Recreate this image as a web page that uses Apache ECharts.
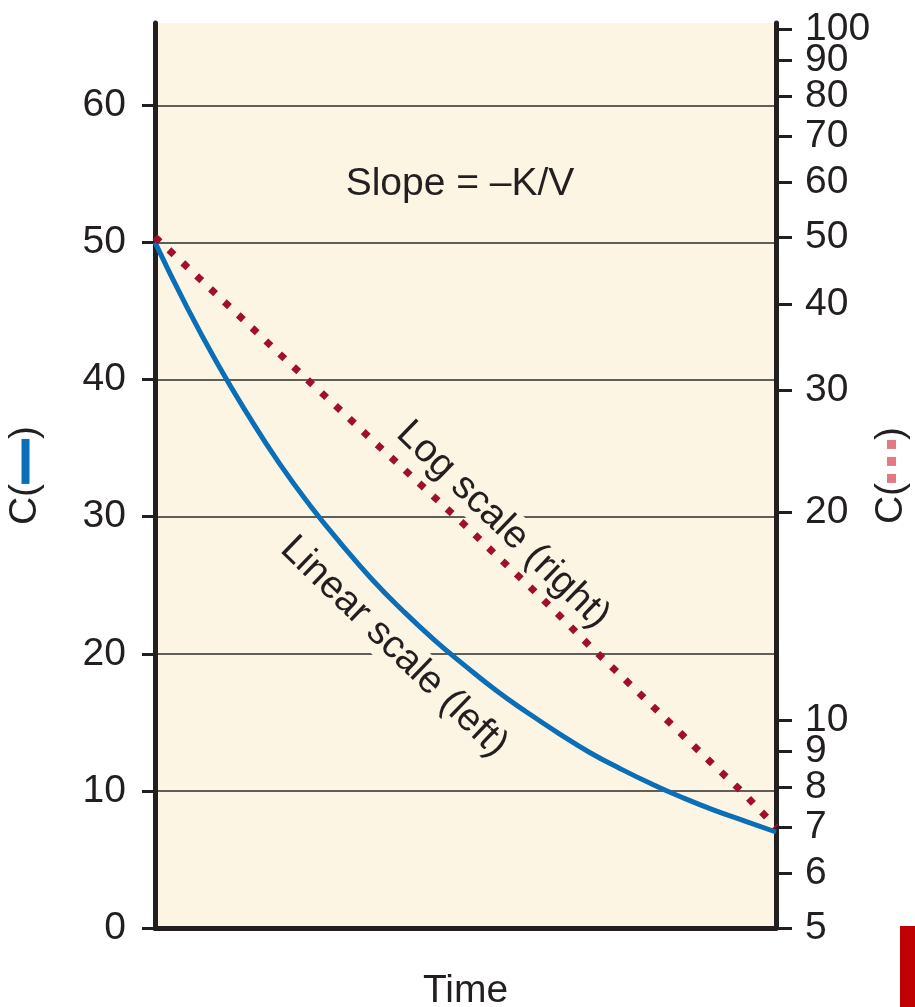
<!DOCTYPE html>
<html>
<head>
<meta charset="utf-8">
<script src="https://cdn.jsdelivr.net/npm/echarts@6/dist/echarts.min.js"></script>
<style>
  html, body { margin: 0; padding: 0; background: #ffffff; }
  #chart { width: 915px; height: 1007px; }
</style>
</head>
<body>
<div id="chart"></div>
<script>
// Elapsed time (arbitrary units) and plasma concentration C at each time point
const times = [0, 0.5, 1, 1.5, 2, 2.5, 3, 3.5, 4, 4.5, 5, 5.5, 6, 6.5, 7, 7.5, 8, 8.5, 9, 9.5, 10];
const concentration = [50, 45.4, 41.2, 37.4, 33.9, 30.8, 28.0, 25.4, 23.1, 21.0, 19.1, 17.3, 15.7, 14.2, 12.8, 11.6, 10.5, 9.5, 8.6, 7.8, 7.0];

// Tick values on the two concentration axes
const linearTicks = [0, 10, 20, 30, 40, 50, 60];
const logTicks = [5, 6, 7, 8, 9, 10, 20, 30, 40, 50, 60, 70, 80, 90, 100];
// The closely packed top labels of the log scale are split over two twin axes
// so neither axis drops a label next to its end.
const logLabelsMain = [5, 6, 7, 8, 9, 10, 20, 30, 40, 50, 60, 80, 100];
const logLabelsTwin = [70, 90];

const INK = '#231F20';
const FONT = 'Liberation Sans';
const FS = 39;
const BLUE = '#0B6FB8';
const CRIMSON = '#A0102C';
const PAPER = '#FDF5E4';
const LOG_MIN = 5;
const LOG_MAX = 102;

const points = times.map((t, i) => [t, concentration[i]]);

const chart = echarts.init(document.getElementById('chart'), null, { renderer: 'canvas' });

const axisLineStyle = { color: INK, width: 5 };
const textFont = FS + 'px "' + FONT + '"';
const gridBox = { left: 155, right: 139, top: 23, bottom: 79, containLabel: false, outerBoundsMode: 'none' };
const rightLabel = { color: INK, fontSize: FS, fontFamily: FONT, margin: 29 };

chart.setOption({
  animation: false,
  backgroundColor: '#ffffff',
  textStyle: { fontFamily: FONT },
  grid: [
    Object.assign({ show: true, backgroundColor: PAPER, borderWidth: 0 }, gridBox),
    Object.assign({ show: false }, gridBox)
  ],
  xAxis: [
    {
      gridIndex: 0, type: 'value', min: 0, max: 10,
      name: 'Time', nameLocation: 'middle', nameGap: 44, nameMoveOverlap: false,
      nameTextStyle: { color: INK, fontSize: FS, fontFamily: FONT },
      axisLine: { show: true, lineStyle: axisLineStyle },
      axisTick: { show: false },
      axisLabel: { show: false },
      splitLine: { show: false }
    },
    {
      gridIndex: 1, type: 'value', min: 0, max: 10, show: false
    }
  ],
  yAxis: [
    {
      gridIndex: 0, type: 'value', position: 'left', min: 0, max: 66,
      name: 'C({b|})', nameLocation: 'middle', nameGap: 110, nameRotate: 90, nameMoveOverlap: false,
      nameTextStyle: {
        color: INK, fontSize: FS, fontFamily: FONT,
        rich: { b: { width: 45, height: 8, backgroundColor: BLUE } }
      },
      axisLine: { show: true, onZero: false, lineStyle: axisLineStyle },
      axisTick: { show: true, inside: false, length: 13, lineStyle: { color: INK, width: 3 }, customValues: linearTicks },
      axisLabel: { color: INK, fontSize: FS, fontFamily: FONT, margin: 29, customValues: linearTicks },
      splitLine: { show: true, lineStyle: { color: '#2b2b2b', width: 1.6 } }
    },
    {
      gridIndex: 0, type: 'log', logBase: 10, position: 'right', min: LOG_MIN, max: LOG_MAX,
      name: 'C({d|}{g|}{d|}{g|}{d|})', nameLocation: 'middle', nameGap: 96, nameRotate: 90, nameMoveOverlap: false,
      nameTextStyle: {
        color: INK, fontSize: FS, fontFamily: FONT,
        rich: {
          d: { width: 9, height: 9, backgroundColor: '#E27B80' },
          g: { width: 8, height: 9 }
        }
      },
      axisLine: { show: true, onZero: false, lineStyle: axisLineStyle },
      axisTick: { show: true, inside: false, length: 16, lineStyle: { color: INK, width: 3 }, customValues: logTicks },
      axisLabel: Object.assign({ customValues: logLabelsMain }, rightLabel),
      splitLine: { show: false },
      minorSplitLine: { show: false }
    },
    {
      gridIndex: 1, type: 'log', logBase: 10, position: 'right', min: LOG_MIN, max: LOG_MAX,
      axisLine: { show: false },
      axisTick: { show: false },
      axisLabel: Object.assign({ customValues: logLabelsTwin }, rightLabel),
      splitLine: { show: false },
      minorSplitLine: { show: false }
    }
  ],
  series: [
    {
      name: 'Linear scale (left)',
      type: 'line', xAxisIndex: 0, yAxisIndex: 0, data: points,
      smooth: true, showSymbol: false, z: 3,
      lineStyle: { color: BLUE, width: 5, cap: 'butt' }
    },
    {
      name: 'Log scale (right)',
      type: 'line', xAxisIndex: 0, yAxisIndex: 1, data: points,
      smooth: false, showSymbol: false, z: 3,
      lineStyle: { color: CRIMSON, width: 7, type: [7, 12], cap: 'butt' }
    }
  ],
  graphic: [
    {
      type: 'text', x: 460, y: 184, z: 1,
      style: { text: 'Slope = \u2013K/V', fill: INK, font: textFont, align: 'center', verticalAlign: 'middle' }
    },
    {
      type: 'text', x: 503, y: 525, z: 1, rotation: -44 * Math.PI / 180,
      style: { text: 'Log scale (right)', fill: INK, font: textFont, align: 'center', verticalAlign: 'middle', backgroundColor: PAPER, padding: [1, 2] }
    },
    {
      type: 'text', x: 394, y: 647, z: 1, rotation: -44 * Math.PI / 180,
      style: { text: 'Linear scale (left)', fill: INK, font: textFont, align: 'center', verticalAlign: 'middle', backgroundColor: PAPER, padding: [1, 2] }
    },
    {
      type: 'rect', z: 1,
      shape: { x: 900, y: 926, width: 15, height: 81 },
      style: { fill: '#C00000' }
    }
  ]
});
</script>
</body>
</html>
